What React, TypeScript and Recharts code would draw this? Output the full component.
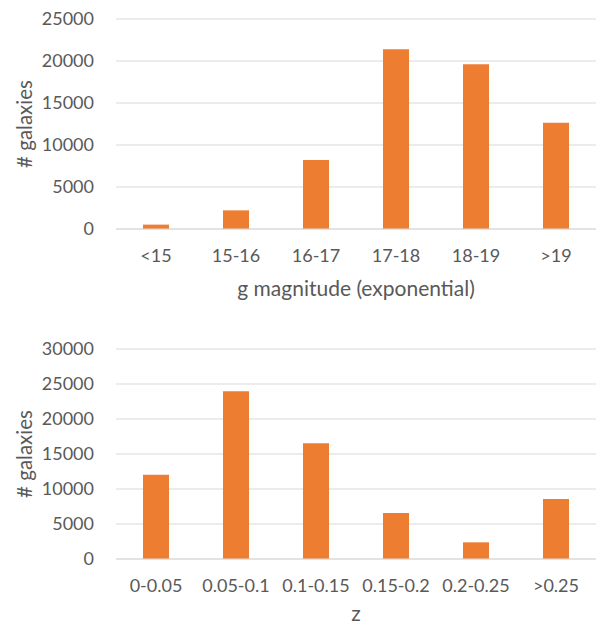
import React from 'react'
import { BarChart, Bar, XAxis, YAxis, CartesianGrid } from 'recharts'

const magCategories = ['<15', '15-16', '16-17', '17-18', '18-19', '>19']
const magCounts = [520, 2220, 8200, 21400, 19600, 12640]
const magTicks = [0, 5000, 10000, 15000, 20000, 25000]

const zCategories = ['0-0.05', '0.05-0.1', '0.1-0.15', '0.15-0.2', '0.2-0.25', '>0.25']
const zCounts = [12030, 23960, 16550, 6560, 2380, 8560]
const zTicks = [0, 5000, 10000, 15000, 20000, 25000, 30000]

const ORANGE = '#ED7D31'
const GRID = '#d9d9d9'
const TEXT = '#595959'

const tickStyle = { fill: TEXT, fontSize: 18, fontFamily: 'Lato' }

function YTitle({ viewBox }: any) {
    const x = viewBox.x + 24
    const y = viewBox.y + viewBox.height / 2
    return (
        <text
            x={x}
            y={y}
            transform={`rotate(-90 ${x} ${y})`}
            textAnchor="middle"
            dominantBaseline="central"
            fill={TEXT}
            fontSize={20.5}
            fontFamily="Lato"
        >
            # galaxies
        </text>
    )
}

function xTitle(text: string, drop: number) {
    return ({ viewBox }: any) => (
        <text
            x={viewBox.x + viewBox.width / 2}
            y={viewBox.y + drop}
            textAnchor="middle"
            fill={TEXT}
            fontSize={21}
            fontFamily="Lato"
        >
            {text}
        </text>
    )
}

function Histogram({
    categories,
    counts,
    ticks,
    title,
    height,
    top,
    xHeight,
    titleDrop,
}: {
    categories: string[]
    counts: number[]
    ticks: number[]
    title: string
    height: number
    top: number
    xHeight: number
    titleDrop: number
}) {
    const data = categories.map((name, i) => ({ name, count: counts[i] }))
    return (
        <BarChart
            width={600}
            height={height}
            data={data}
            margin={{ top, right: 4, left: 0, bottom: 0 }}
        >
            <CartesianGrid vertical={false} stroke={GRID} />
            <XAxis
                dataKey="name"
                interval={0}
                tickLine={false}
                tickSize={0}
                tickMargin={20}
                axisLine={{ stroke: GRID }}
                tick={tickStyle}
                height={xHeight}
                label={xTitle(title, titleDrop)}
            />
            <YAxis
                width={116}
                domain={[0, ticks[ticks.length - 1]]}
                ticks={ticks}
                axisLine={false}
                tickLine={false}
                tickSize={0}
                tickMargin={22}
                tick={tickStyle}
                label={YTitle}
            />
            <Bar dataKey="count" fill={ORANGE} barSize={26} isAnimationActive={false} />
        </BarChart>
    )
}

export default function App() {
    return (
        <div
            style={{
                position: 'absolute',
                left: 0,
                top: 0,
                width: 600,
                height: 626,
                background: '#ffffff',
                fontFamily: 'Lato',
            }}
        >
            <Histogram
                categories={magCategories}
                counts={magCounts}
                ticks={magTicks}
                title="g magnitude (exponential)"
                height={313}
                top={19}
                xHeight={84}
                titleDrop={67}
            />
            <Histogram
                categories={zCategories}
                counts={zCounts}
                ticks={zTicks}
                title="z"
                height={313}
                top={36}
                xHeight={67}
                titleDrop={62}
            />
        </div>
    )
}
